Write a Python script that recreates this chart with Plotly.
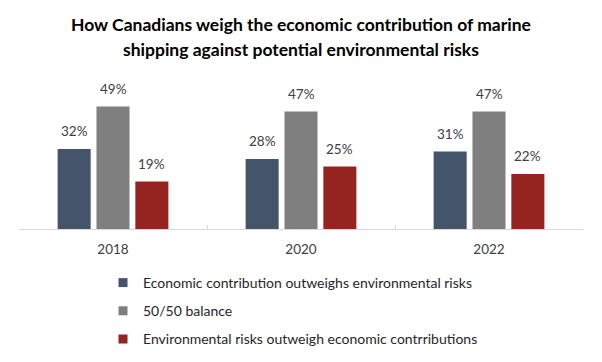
import plotly.graph_objects as go

years = ["2018", "2020", "2022"]
economic = [32, 28, 31]
balance = [49, 47, 47]
environmental = [19, 25, 22]
series_names = [
    "Economic contribution outweighs environmental risks",
    "50/50 balance",
    "Environmental risks outweigh economic contrributions",
]
colors = ["#44546A", "#7F7F7F", "#952320"]
title_lines = [
    "How Canadians weigh the economic contribution of marine",
    "shipping against potential environmental risks",
]

FONT = "Lato, Open Sans, sans-serif"
W, H = 602, 362
ML, MR, MT, MB = 19, 19, 70, 0
PLOT_BOTTOM = 229  # pixel row of the x axis line
PH = H - MT - MB
PW = W - ML - MR
BARGAP = 0.38

def py2paper(py):
    return (H - MB - py) / PH

def px2paper(px):
    return (px - ML) / PW

all_series = [economic, balance, environmental]
n_series = len(all_series)
slot_px = PW / len(years) * (1 - BARGAP) / n_series

fig = go.Figure()
for i, (name, vals, c) in enumerate(zip(series_names, all_series, colors)):
    fig.add_trace(go.Bar(
        x=years, y=vals, name=name, marker_color=c,
        marker_line_width=0, showlegend=False,
    ))
    # value labels above each bar
    for j, v in enumerate(vals):
        fig.add_annotation(
            x=j, y=v, xref="x", yref="y", text=f"{v}%", showarrow=False,
            xshift=(i - (n_series - 1) / 2) * slot_px, yshift=18,
            yanchor="middle", font=dict(size=13.5, color="#404040", family=FONT),
        )
    # legend proxy with small square symbol
    fig.add_trace(go.Scatter(
        x=[years[0]], y=[None], mode="markers", name=name,
        marker=dict(symbol="square", size=9, color=c),
        legendgroup=f"g{i}", showlegend=True,
    ))

fig.update_layout(
    width=W, height=H,
    margin=dict(l=ML, r=MR, t=MT, b=MB),
    paper_bgcolor="white", plot_bgcolor="white",
    font=dict(family=FONT, size=13, color="#404040"),
    barmode="group", bargap=BARGAP, bargroupgap=0.15,
    showlegend=True,
    legend=dict(
        orientation="v",
        x=px2paper(103), xanchor="left", y=py2paper(267), yanchor="top",
        font=dict(size=14, color="#262626", family=FONT), tracegroupgap=7,
        itemwidth=30, bgcolor="rgba(0,0,0,0)",
    ),
    xaxis=dict(
        type="category", categoryorder="array", categoryarray=years,
        showline=True, linecolor="#D9D9D9", linewidth=1,
        ticks="inside", tickson="boundaries", ticklen=4, tickcolor="#D9D9D9",
        tickfont=dict(size=13.5, color="#404040"), ticklabelstandoff=8,
    ),
    yaxis=dict(visible=False, range=[0, 63.6], domain=[py2paper(PLOT_BOTTOM), 1]),
)

for k, line in enumerate(title_lines):
    py = 25 + 25 * k
    fig.add_annotation(
        text=f"<b>{line}</b>", xref="paper", yref="paper",
        x=0.5, xanchor="center", y=py2paper(py), yanchor="middle",
        showarrow=False, font=dict(size=17.5, color="black", family=FONT),
    )

fig.write_html("out.html", config={"displayModeBar": False},
               post_script="document.body.style.margin='0';")
